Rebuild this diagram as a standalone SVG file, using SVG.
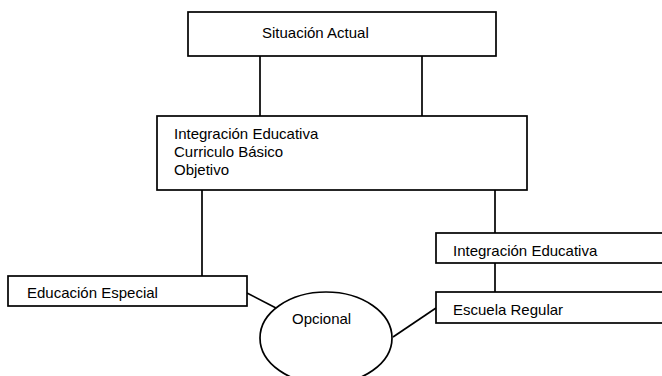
<svg xmlns="http://www.w3.org/2000/svg" width="662" height="376" viewBox="0 0 662 376">
<style>
.box{fill:#fff;stroke:#000;stroke-width:1.7}
.ln{stroke:#000;stroke-width:1.7;fill:none}
.t{font-family:"Liberation Sans",Arial,sans-serif;font-size:15px;fill:#000}
</style>
<rect width="662" height="376" fill="#fff"/>
<g id="connectors">
<line class="ln" x1="260" y1="56" x2="260" y2="116"/>
<line class="ln" x1="422" y1="56" x2="422" y2="116"/>
<line class="ln" x1="202" y1="190" x2="202" y2="276"/>
<line class="ln" x1="495" y1="190" x2="495" y2="233"/>
<line class="ln" x1="495" y1="263" x2="495" y2="292"/>
<line class="ln" x1="247" y1="293" x2="276" y2="308"/>
<line class="ln" x1="393" y1="337" x2="436" y2="308"/>
</g>
<g id="situacion">
<rect class="box" x="188" y="12" width="308" height="44"/>
<text class="t" x="262" y="38">Situación Actual</text>
</g>
<g id="integracion-main">
<rect class="box" x="157" y="116" width="370" height="74"/>
<text class="t" x="174" y="139">Integración Educativa</text>
<text class="t" x="174" y="157">Curriculo Básico</text>
<text class="t" x="174" y="175">Objetivo</text>
</g>
<g id="educacion-especial">
<rect class="box" x="8" y="276" width="239" height="30"/>
<text class="t" x="27" y="298">Educación Especial</text>
</g>
<g id="integracion-right">
<rect class="box" x="436" y="233" width="240" height="30"/>
<text class="t" x="453" y="256">Integración Educativa</text>
</g>
<g id="escuela-regular">
<rect class="box" x="436" y="292" width="240" height="31"/>
<text class="t" x="453" y="315">Escuela Regular</text>
</g>
<g id="opcional">
<ellipse class="box" cx="326" cy="338" rx="66" ry="46"/>
<text class="t" x="292" y="324">Opcional</text>
</g>
</svg>
